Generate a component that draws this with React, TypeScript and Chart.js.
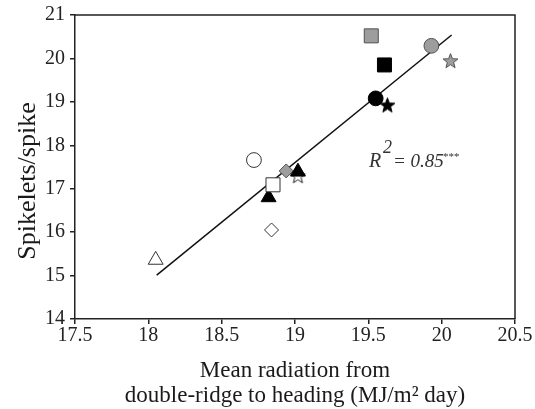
import React, { useEffect, useRef } from 'react';
import { Chart, registerables } from 'chart.js';

Chart.register(...registerables);

// ---- data ----
const radiation = [18.05, 18.84, 18.82, 18.85, 18.72, 18.94, 19.02, 19.02, 19.55, 19.63, 19.52, 19.61, 19.93, 20.06];
const spikelets = [15.36, 16.05, 16.80, 17.09, 17.66, 17.41, 17.30, 17.39, 19.08, 18.93, 20.52, 19.85, 20.29, 19.95];
const markerShape = ['triangle', 'rectRot', 'triangle', 'rect', 'circle', 'rectRot', 'star', 'triangle', 'circle', 'star', 'rect', 'rect', 'circle', 'star'];
const markerFill = ['open', 'open', 'black', 'open', 'open', 'gray', 'open', 'black', 'black', 'black', 'gray', 'black', 'gray', 'gray'];

const fitX = [18.057, 20.068];
const fitY = [15.01, 20.54];

const xTickValues = [17.5, 18, 18.5, 19, 19.5, 20, 20.5];
const yTickValues = [14, 15, 16, 17, 18, 19, 20, 21];

const SERIF = "'Liberation Serif', 'Times New Roman', serif";

const fillColor: Record<string, string> = { open: '#ffffff', black: '#000000', gray: '#9d9d9d' };
const strokeColor: Record<string, string> = { open: '#333333', black: '#000000', gray: '#505050' };
const radiusFor: Record<string, number> = { triangle: 8.6, rectRot: 7, rect: 9.9, circle: 7.4, star: 8 };

function makeStar(fill: string, stroke: string): HTMLCanvasElement {
  const size = 19;
  const c = document.createElement('canvas');
  c.width = size;
  c.height = size;
  const ctx = c.getContext('2d')!;
  const cx = size / 2;
  const cy = size / 2 + 0.8;
  const outer = 7.8;
  const inner = 3.3;
  ctx.beginPath();
  for (let i = 0; i < 10; i++) {
    const r = i % 2 === 0 ? outer : inner;
    const a = -Math.PI / 2 + (i * Math.PI) / 5;
    const px = cx + r * Math.cos(a);
    const py = cy + r * Math.sin(a);
    if (i === 0) ctx.moveTo(px, py);
    else ctx.lineTo(px, py);
  }
  ctx.closePath();
  ctx.fillStyle = fill;
  ctx.fill();
  ctx.lineWidth = 1;
  ctx.strokeStyle = stroke;
  ctx.stroke();
  return c;
}

const framePlugin = {
  id: 'frameAndText',
  afterDraw(chart: any) {
    const { ctx, chartArea, scales } = chart;
    const { left, right, top, bottom } = chartArea;
    ctx.save();
    ctx.strokeStyle = '#222';
    ctx.lineWidth = 1.5;
    ctx.beginPath();
    ctx.moveTo(left, top);
    ctx.lineTo(right, top);
    ctx.lineTo(right, bottom);
    ctx.stroke();

    // y-axis title
    ctx.fillStyle = '#1a1a1a';
    ctx.translate(28, (top + bottom) / 2 + 14);
    ctx.rotate(-Math.PI / 2);
    ctx.textAlign = 'center';
    ctx.textBaseline = 'middle';
    ctx.font = `26px ${SERIF}`;
    ctx.fillText('Spikelets/spike', 0, 0);
    ctx.restore();

    // R² annotation
    const ax = scales.x.getPixelForValue(19.504);
    const ay = scales.y.getPixelForValue(17.5);
    ctx.save();
    ctx.fillStyle = '#333';
    ctx.textBaseline = 'alphabetic';
    ctx.textAlign = 'left';
    ctx.font = `italic 20px ${SERIF}`;
    ctx.fillText('R', ax, ay);
    ctx.font = `italic 18px ${SERIF}`;
    ctx.fillText('2', ax + 14, ay - 14);
    ctx.font = `italic 19px ${SERIF}`;
    ctx.fillText('= 0.85', ax + 24, ay);
    ctx.font = `11px ${SERIF}`;
    ctx.fillText('***', ax + 74, ay - 7);
    ctx.restore();
  },
};

export default function App() {
  const ref = useRef<HTMLCanvasElement | null>(null);

  useEffect(() => {
    if (!ref.current) return;
    const starImgs: Record<string, HTMLCanvasElement> = {
      open: makeStar('#ffffff', '#222222'),
      black: makeStar('#000000', '#000000'),
      gray: makeStar('#9d9d9d', '#505050'),
    };
    const points = radiation.map((x, i) => ({ x, y: spikelets[i] }));
    const styles = markerShape.map((s, i) => (s === 'star' ? starImgs[markerFill[i]] : s));
    const radii = markerShape.map((s) => radiusFor[s]);
    const bg = markerFill.map((f) => fillColor[f]);
    const bd = markerFill.map((f) => strokeColor[f]);
    const fitLine = fitX.map((x, i) => ({ x, y: fitY[i] }));

    const chart = new Chart(ref.current, {
      type: 'scatter',
      data: {
        datasets: [
          {
            data: points,
            pointStyle: styles as any,
            pointRadius: radii,
            pointHoverRadius: radii,
            pointBackgroundColor: bg,
            pointBorderColor: bd,
            pointBorderWidth: 1,
            showLine: false,
          },
          {
            type: 'line',
            data: fitLine,
            borderColor: '#111',
            borderWidth: 1.5,
            pointRadius: 0,
            showLine: true,
            fill: false,
          } as any,
        ],
      },
      options: {
        animation: false,
        responsive: false,
        devicePixelRatio: 1,
        layout: { padding: { left: 0, top: 15, right: 20, bottom: 0 } },
        plugins: { legend: { display: false }, tooltip: { enabled: false } },
        scales: {
          x: {
            type: 'linear',
            min: 17.5,
            max: 20.5,
            afterBuildTicks: (scale: any) => {
              scale.ticks = xTickValues.map((v) => ({ value: v }));
            },
            afterFit: (scale: any) => {
              scale.height = 90;
            },
            ticks: {
              font: { family: SERIF, size: 20, lineHeight: 1 },
              color: '#222',
              padding: 2,
              maxRotation: 0,
              callback: (v: any) => String(v),
            },
            grid: { drawOnChartArea: false, drawTicks: true, tickLength: 5, color: '#222', lineWidth: 1.5 },
            border: { display: true, color: '#222', width: 1.5 },
            title: {
              display: true,
              text: ['Mean radiation from', 'double-ridge to heading (MJ/m² day)'],
              font: { family: SERIF, size: 23, lineHeight: '25px' as any },
              color: '#1a1a1a',
              padding: { top: 0, bottom: 1 },
            },
          },
          y: {
            type: 'linear',
            min: 14,
            max: 21,
            afterBuildTicks: (scale: any) => {
              scale.ticks = yTickValues.map((v) => ({ value: v }));
            },
            afterFit: (scale: any) => {
              scale.width = 75;
            },
            ticks: {
              font: { family: SERIF, size: 20, lineHeight: 1 },
              color: '#222',
              padding: 5,
              callback: (v: any) => String(v),
            },
            grid: { drawOnChartArea: false, drawTicks: true, tickLength: 5, color: '#222', lineWidth: 1.5 },
            border: { display: true, color: '#222', width: 1.5 },
          },
        },
      },
      plugins: [framePlugin],
    });
    return () => chart.destroy();
  }, []);

  return (
    <div style={{ position: 'fixed', left: 0, top: 0, width: 535, height: 409, background: '#fff' }}>
      <canvas ref={ref} width={535} height={409} style={{ display: 'block' }} />
    </div>
  );
}
